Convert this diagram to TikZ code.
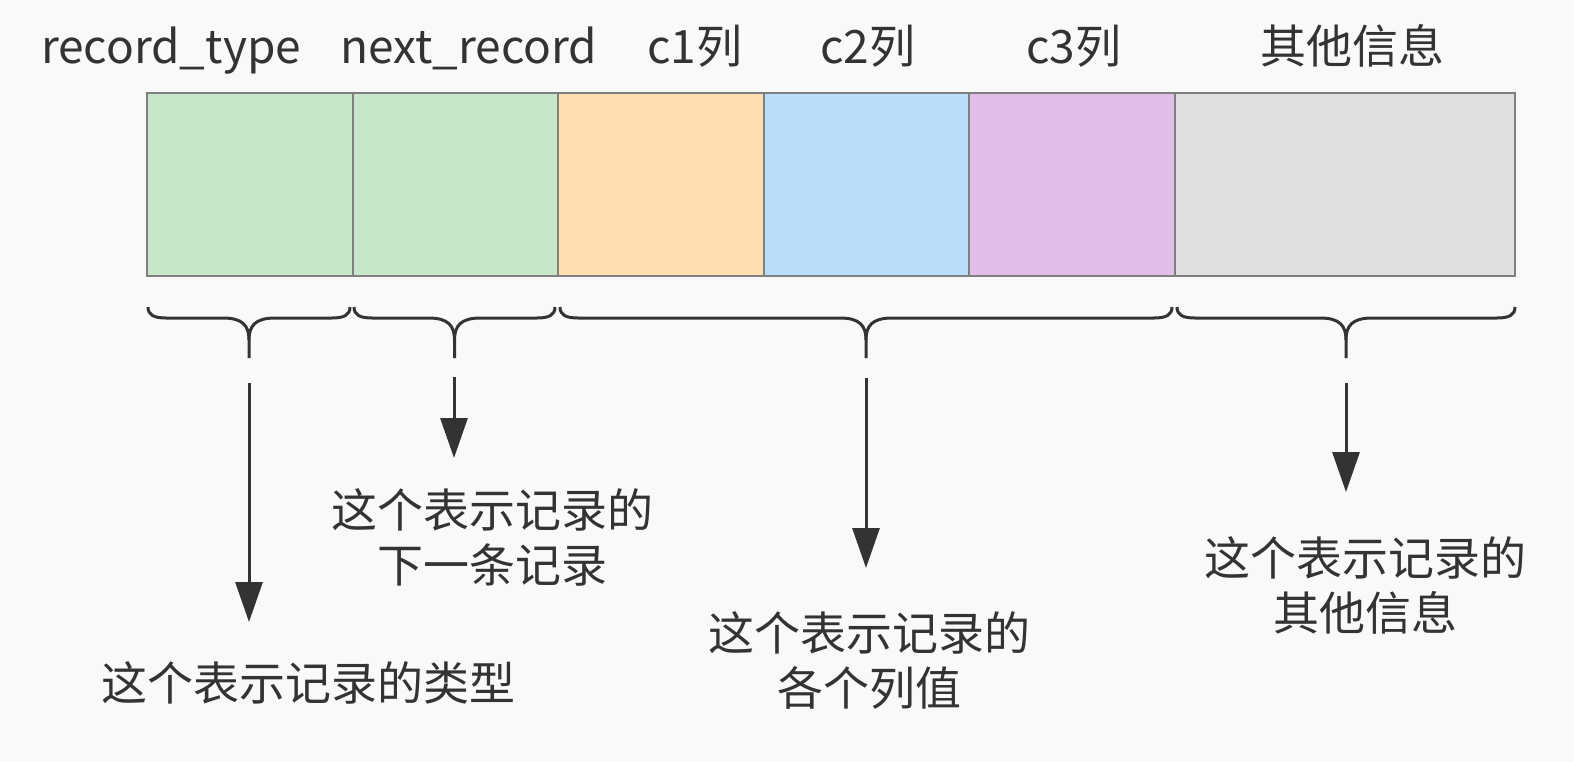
\documentclass[tikz,border=0pt]{standalone}
\usepackage{fontspec}
\setmainfont{Noto Sans CJK SC}
\usetikzlibrary{arrows.meta,calc}
\definecolor{bg}{HTML}{F9F9F9}
\definecolor{ink}{HTML}{333333}
\definecolor{cellborder}{HTML}{7F7F7F}
\definecolor{cgreen}{HTML}{C8E6C9}
\definecolor{corange}{HTML}{FFE0B2}
\definecolor{cblue}{HTML}{BBDEFB}
\definecolor{cpurple}{HTML}{E1BEE7}
\definecolor{cgray}{HTML}{E0E0E0}
\newcommand\mybrace[3]{%
  \pgfmathsetmacro\bxc{(#1+#2)/2}%
  \coordinate (#3) at (\bxc,358);
  \draw[bracestyle] (#1,307) .. controls (#1,315) and (#1+6,318) .. (#1+18,318)
    -- (\bxc-26,318) .. controls (\bxc-6,318) and (\bxc,326) .. (\bxc,340) -- (#3);
  \draw[bracestyle] (#2,307) .. controls (#2,315) and (#2-6,318) .. (#2-18,318)
    -- (\bxc+26,318) .. controls (\bxc+6,318) and (\bxc,326) .. (\bxc,340);
}
\begin{document}
\begin{tikzpicture}[x=1pt,y=-1pt,
  cell/.style={draw=cellborder, line width=2pt, minimum height=183pt, inner sep=0pt, outer sep=0pt},
  hdr/.style={anchor=base, inner sep=0pt, text=ink, font=\fontsize{46}{55}\selectfont},
  lbl/.style={inner sep=0pt, text=ink, align=center, font=\fontsize{46}{55}\selectfont},
  bracestyle/.style={draw=ink, line width=3pt, line cap=butt},
  arr/.style={draw=ink, line width=3pt, -{Triangle[length=40pt,width=27pt]}}]
\fill[bg] (0,0) rectangle (1574,762);
\useasboundingbox (0,0) rectangle (1574,762);

% cells
\node[cell, fill=cgreen,  minimum width=206pt] (rt) at (250,184.5) {};
\node[cell, fill=cgreen,  minimum width=205pt] (nr) at (455.5,184.5) {};
\node[cell, fill=corange, minimum width=206pt] (c1) at (661,184.5) {};
\node[cell, fill=cblue,   minimum width=205pt] (c2) at (866.5,184.5) {};
\node[cell, fill=cpurple, minimum width=206pt] (c3) at (1072,184.5) {};
\node[cell, fill=cgray,   minimum width=340pt] (oi) at (1345,184.5) {};

% headers
\node[hdr] (hrt) at (171,64) {record\_type};
\node[hdr] (hnr) at (469,64) {next\_record};
\node[hdr] (hc1) at (695,64) {c1列};
\node[hdr] (hc2) at (868,64) {c2列};
\node[hdr] (hc3) at (1074,64) {c3列};
\node[hdr] (hoi) at (1352,64) {其他信息};

% braces
\mybrace{148}{350}{brt}
\mybrace{354}{555}{bnr}
\mybrace{560}{1172}{bcv}
\mybrace{1177}{1515}{boi}

% labels
\node[lbl] (lrt) at (308,683) {这个表示记录的类型};
\node[lbl] (lnr) at (492,537.5) {这个表示记录的\\下一条记录};
\node[lbl] (lcv) at (869,660.5) {这个表示记录的\\各个列值};
\node[lbl] (loi) at (1365,585.5) {这个表示记录的\\其他信息};

% arrows
\coordinate (art) at (249,383);  \coordinate (ert) at (249,622);
\coordinate (anr) at (454,377);  \coordinate (enr) at (454,458);
\coordinate (acv) at (866,378);  \coordinate (ecv) at (866,568);
\coordinate (aoi) at (1346,383); \coordinate (eoi) at (1346,492);
\draw[arr] (art) -- (ert);
\draw[arr] (anr) -- (enr);
\draw[arr] (acv) -- (ecv);
\draw[arr] (aoi) -- (eoi);
\end{tikzpicture}
\end{document}
